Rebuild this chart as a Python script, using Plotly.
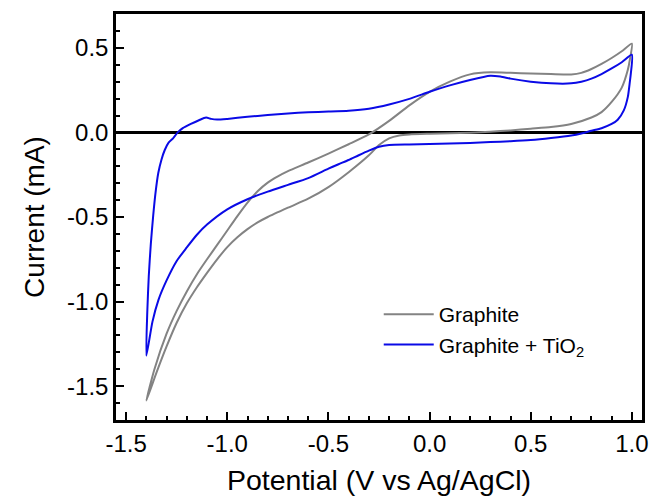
import plotly.graph_objects as go

# ---- Graphite (gray) : forward sweep (-1.4 -> 1.0) ----
graphite_fwd_v = [-1.40, -1.36, -1.30, -1.25, -1.20, -1.15, -1.10, -1.05, -1.00, -0.95, -0.90,
                  -0.85, -0.80, -0.75, -0.70, -0.60, -0.50, -0.40, -0.30, -0.20, -0.10, 0.00,
                  0.10, 0.20, 0.30, 0.40, 0.50, 0.60, 0.70, 0.75, 0.80, 0.85, 0.90, 0.95, 1.00]
graphite_fwd_i = [-1.585, -1.40, -1.19, -1.055, -0.94, -0.838, -0.75, -0.665, -0.58, -0.495, -0.415,
                  -0.348, -0.297, -0.26, -0.229, -0.178, -0.125, -0.07, -0.012, 0.068, 0.16, 0.24,
                  0.30, 0.343, 0.355, 0.352, 0.348, 0.345, 0.343, 0.352, 0.375, 0.405, 0.44, 0.48, 0.525]
# ---- Graphite (gray) : reverse sweep (1.0 -> -1.4) ----
graphite_rev_v = [0.99, 0.98, 0.95, 0.90, 0.85, 0.80, 0.70, 0.60, 0.50, 0.40, 0.30, 0.20, 0.10,
                  0.00, -0.10, -0.15, -0.20, -0.25, -0.30, -0.40, -0.50, -0.60, -0.70, -0.80,
                  -0.85, -0.90, -0.95, -1.00, -1.05, -1.10, -1.15, -1.20, -1.25, -1.30, -1.35, -1.40]
graphite_rev_i = [0.43, 0.37, 0.265, 0.18, 0.12, 0.088, 0.05, 0.032, 0.022, 0.012, 0.004, -0.002, -0.005,
                  -0.008, -0.012, -0.018, -0.035, -0.075, -0.135, -0.235, -0.323, -0.392, -0.445, -0.50,
                  -0.532, -0.572, -0.62, -0.678, -0.75, -0.83, -0.915, -1.01, -1.125, -1.265, -1.42, -1.585]

# ---- Graphite + TiO2 (blue) : forward sweep ----
tio2_fwd_v = [-1.40, -1.395, -1.388, -1.378, -1.366, -1.355, -1.341, -1.325, -1.309, -1.29, -1.268,
              -1.245, -1.22, -1.18, -1.14, -1.105, -1.08, -1.05, -1.00, -0.90, -0.80, -0.70, -0.60,
              -0.50, -0.40, -0.30, -0.20, -0.10, 0.00, 0.10, 0.20, 0.30, 0.35, 0.40, 0.50, 0.60,
              0.70, 0.75, 0.80, 0.85, 0.90, 0.95, 1.00]
tio2_fwd_i = [-1.32, -1.05, -0.85, -0.66, -0.49, -0.36, -0.24, -0.16, -0.104, -0.06, -0.035,
              0.0, 0.025, 0.05, 0.072, 0.088, 0.08, 0.076, 0.08, 0.092, 0.103, 0.112, 0.119,
              0.123, 0.128, 0.14, 0.165, 0.198, 0.24, 0.278, 0.31, 0.335, 0.33, 0.318, 0.30, 0.29,
              0.29, 0.30, 0.318, 0.345, 0.378, 0.415, 0.46]
# ---- Graphite + TiO2 (blue) : reverse sweep ----
tio2_rev_v = [0.995, 0.99, 0.98, 0.96, 0.93, 0.90, 0.85, 0.80, 0.75, 0.70, 0.60, 0.50, 0.40, 0.30,
              0.20, 0.10, 0.00, -0.10, -0.20, -0.25, -0.30, -0.35, -0.40, -0.45, -0.50, -0.60,
              -0.70, -0.80, -0.90, -1.00, -1.10, -1.15, -1.20, -1.25, -1.30, -1.34, -1.37, -1.40]
tio2_rev_i = [0.35, 0.30, 0.21, 0.13, 0.075, 0.05, 0.025, 0.01, -0.006, -0.018, -0.033, -0.045,
              -0.052, -0.057, -0.062, -0.066, -0.069, -0.071, -0.074, -0.085, -0.108, -0.135, -0.163,
              -0.188, -0.214, -0.27, -0.31, -0.35, -0.395, -0.455, -0.545, -0.605, -0.68, -0.76,
              -0.875, -0.99, -1.12, -1.32]

x_tickvals = [-1.5, -1.0, -0.5, 0.0, 0.5, 1.0]
x_ticktext = ["-1.5", "-1.0", "-0.5", "0.0", "0.5", "1.0"]
y_tickvals = [-1.5, -1.0, -0.5, 0.0, 0.5]
y_ticktext = ["-1.5", "-1.0", "-0.5", "0.0", "0.5"]

FONT = "Liberation Sans, Arial, sans-serif"

fig = go.Figure()
fig.add_trace(go.Scatter(
    x=graphite_fwd_v + graphite_rev_v, y=graphite_fwd_i + graphite_rev_i,
    mode="lines", name="Graphite",
    line=dict(color="#838383", width=2, shape="spline", smoothing=0.6)))
fig.add_trace(go.Scatter(
    x=tio2_fwd_v + tio2_rev_v, y=tio2_fwd_i + tio2_rev_i,
    mode="lines", name="Graphite + TiO<sub>2</sub>",
    line=dict(color="#0a0ae6", width=2, shape="spline", smoothing=0.6)))

axis_common = dict(
    showline=True, linecolor="black", linewidth=2.5, mirror=True, automargin=False,
    showgrid=False, ticks="inside", ticklen=8, tickwidth=2, tickcolor="black",
    tickfont=dict(family=FONT, size=24, color="black"),
)
fig.update_xaxes(
    range=[-1.55, 1.05], tickmode="array", tickvals=x_tickvals, ticktext=x_ticktext,
    zeroline=False,
    minor=dict(tickmode="linear", tick0=0, dtick=0.1, ticks="inside", ticklen=4,
               tickwidth=2, tickcolor="black"),
    title=dict(text="Potential (V vs Ag/AgCl)", font=dict(family=FONT, size=28.5, color="black"),
               standoff=19),
    ticklabelstandoff=0,
    **axis_common)
fig.update_yaxes(
    range=[-1.7, 0.7], tickmode="array", tickvals=y_tickvals, ticktext=y_ticktext,
    zeroline=True, zerolinecolor="black", zerolinewidth=2.5,
    minor=dict(tickmode="linear", tick0=0, dtick=0.1, ticks="inside", ticklen=4,
               tickwidth=2, tickcolor="black"),
    title=dict(text="Current (mA)", font=dict(family=FONT, size=28, color="black"),
               standoff=15),
    ticklabelstandoff=0,
    **axis_common)

fig.update_layout(
    width=654, height=496,
    margin=dict(l=116, r=12, t=14, b=76, autoexpand=False),
    paper_bgcolor="white", plot_bgcolor="white",
    showlegend=True,
    legend=dict(x=0.4995, y=0.31, xanchor="left", yanchor="top",
                bgcolor="rgba(0,0,0,0)", borderwidth=0,
                font=dict(family=FONT, size=21, color="black"),
                itemwidth=50, tracegroupgap=0),
)

fig.write_html("out.html", config={"displayModeBar": False},
               post_script="document.body.style.margin='0';document.body.style.overflow='hidden';")
